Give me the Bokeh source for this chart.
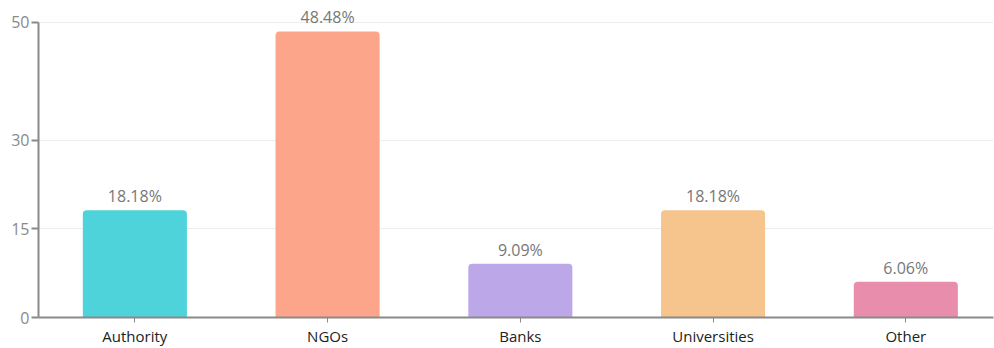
from bokeh.plotting import figure
from bokeh.models import ColumnDataSource, FixedTicker, Range1d, LabelSet
from bokeh.core.properties import value
from bokeh.embed import file_html
from bokeh.resources import INLINE

categories = ["Authority", "NGOs", "Banks", "Universities", "Other"]
values = [18.18, 48.48, 9.09, 18.18, 6.06]
labels = ["18.18%", "48.48%", "9.09%", "18.18%", "6.06%"]
colors = ["#4fd3da", "#fda58b", "#bca8e8", "#f5c58d", "#e98dac"]
y_ticks = [0, 15, 30, 50]

xpos = [i + 0.5 for i in range(len(categories))]
source = ColumnDataSource(dict(x=xpos, cat=categories, val=values, lab=labels, col=colors))

p = figure(width=994, height=348, x_range=Range1d(0, len(categories) - 0.045),
           y_range=Range1d(0, 53.05), output_backend="svg", toolbar_location=None,
           min_border_left=38, min_border_top=4, min_border_bottom=31, min_border_right=1)
p.outline_line_color = None
p.background_fill_color = "white"

p.vbar(x="x", top="val", width=0.54, source=source, fill_color="col", line_color=None,
       border_radius=(4, 4, 0, 0))
p.add_layout(LabelSet(x="x", y="val", text="lab", source=source, text_align="center",
                      text_baseline="bottom", y_offset=3, text_color="#777777",
                      text_font_size="16px", text_font=value("Open Sans")))

p.yaxis.ticker = FixedTicker(ticks=y_ticks)
p.yaxis.bounds = (0, 50)
p.yaxis.axis_line_color = "#8a8a8a"
p.yaxis.axis_line_width = 2
p.yaxis.major_tick_line_color = "#8a8a8a"
p.yaxis.major_tick_line_width = 2
p.yaxis.major_tick_out = 7
p.yaxis.major_tick_in = 0
p.yaxis.minor_tick_line_color = None
p.yaxis.major_label_text_color = "#8a8a8a"
p.yaxis.major_label_text_font = "Open Sans"
p.yaxis.major_label_text_font_size = "16px"
p.yaxis.major_label_standoff = 2

p.xaxis.ticker = FixedTicker(ticks=xpos)
p.xaxis.major_label_overrides = {x: c for x, c in zip(xpos, categories)}
p.xaxis.axis_line_color = "#8a8a8a"
p.xaxis.axis_line_width = 2
p.xaxis.major_tick_line_color = "#8a8a8a"
p.xaxis.major_tick_line_width = 1
p.xaxis.major_tick_out = 5
p.xaxis.major_tick_in = 0
p.xaxis.minor_tick_line_color = None
p.xaxis.major_label_text_color = "#222222"
p.xaxis.major_label_text_font = "Open Sans"
p.xaxis.major_label_text_font_size = "15px"
p.xaxis.major_label_standoff = 3

p.xgrid.grid_line_color = None
p.ygrid.ticker = FixedTicker(ticks=y_ticks)
p.ygrid.grid_line_color = "#ececec"
p.ygrid.grid_line_width = 1

open("out.html", "w").write(file_html(p, INLINE))
